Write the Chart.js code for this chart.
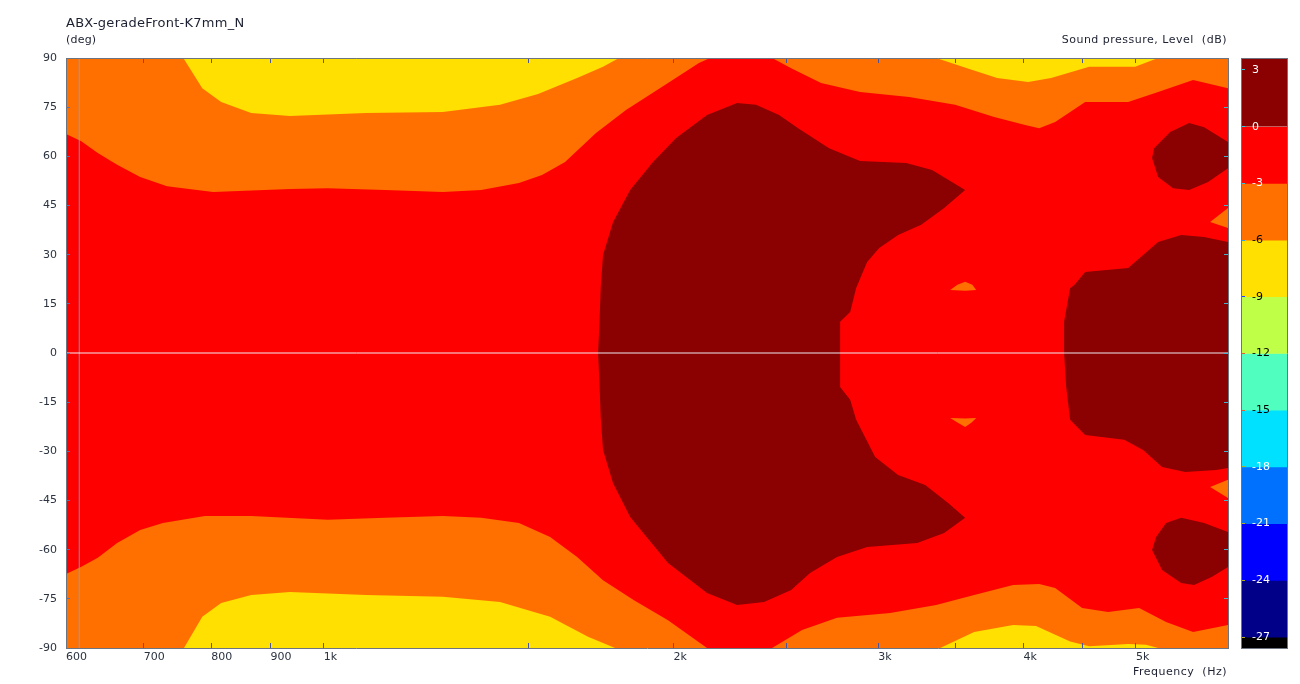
<!DOCTYPE html>
<html lang="de">
<head>
<meta charset="UTF-8">
<title>ABX-geradeFront-K7mm_N</title>
<script src="https://cdn.jsdelivr.net/npm/chart.js"></script>
<style>
  body { margin: 0; background: #fff; }
  #wrap { position: relative; width: 1300px; height: 684px; overflow: hidden;
          font-family: "DejaVu Sans", Verdana, sans-serif; color: #1c2030; }
  #plot { position: absolute; left: 0; top: 0; }
  #bar { position: absolute; left: 1230px; top: 41px; }
  .lbl { position: absolute; white-space: pre; font-size: 11px; line-height: 13px; letter-spacing: 0.5px; }
  #title { left: 66px; top: 15px; font-size: 13px; line-height: 16px; letter-spacing: 0.27px; }
  #ylab { left: 66px; top: 33px; letter-spacing: 0.2px; }
  #zlab { right: 73px; top: 33px; }
  #xlab { right: 73px; top: 665px; }
</style>
</head>
<body>
<div id="wrap">
  <canvas id="plot" width="1300" height="684"></canvas>
  <canvas id="bar" width="70" height="625"></canvas>
  <div class="lbl" id="title">ABX-geradeFront-K7mm_N</div>
  <div class="lbl" id="ylab">(deg)</div>
  <div class="lbl" id="zlab">Sound pressure, Level  (dB)</div>
  <div class="lbl" id="xlab">Frequency  (Hz)</div>
</div>

<script>
  // axes
  const xTicks = [600, 700, 800, 900, 1000, 1500, 2000, 2500, 3000, 3500, 4000, 4500, 5000];
  const xTickLabels = {600: '600', 700: '700', 800: '800', 900: '900', 1000: '1k', 2000: '2k', 3000: '3k', 4000: '4k', 5000: '5k'};
  const yTicks = [-90, -75, -60, -45, -30, -15, 0, 15, 30, 45, 60, 75, 90];

  // colour scale (dB)
  const cbLevels = [3, 0, -3, -6, -9, -12, -15, -18, -21, -24, -27];
  const cbLabelColors = ['#fff', '#fff', '#fff', '#000', '#000', '#000', '#000', '#fff', '#fff', '#fff', '#fff'];
  const cbTickColors = ['#30c8e0', '#30c8e0', '#30c8e0', '#30a0e0', '#2040ff', '#e06030', '#e06030', '#b0b020', '#b0b020', '#b0b020', '#b0b020'];
  const cbBands = [[0, 3.6], [-3, 0], [-6, -3], [-9, -6], [-12, -9], [-15, -12], [-18, -15], [-21, -18], [-24, -21], [-27, -24], [-27.6, -27]];
  const cbColors = ['#8b0000', '#ff0000', '#ff7000', '#ffe000', '#c0ff48', '#50ffc0', '#00e0ff', '#0070ff', '#0000ff', '#000088', '#000000'];

  // contour regions, [frequency Hz, angle deg]
  const orangeAll = [[600, -90], [6000, -90], [6000, 90], [600, 90]];

  const yellowTopLeft = [[757, 90], [786, 80.8], [816, 76.6], [866, 73.2], [935, 72.3], [1087, 73.2], [1266, 73.5],
    [1418, 75.7], [1529, 79.0], [1652, 83.9], [1739, 87.3], [1795, 90]];
  const yellowTopRight = [[3365, 90], [3578, 86.9], [3797, 83.9], [4038, 82.7], [4226, 83.9], [4557, 87.3], [4991, 87.3], [5224, 90]];
  const yellowBottomLeft = [[758, -90], [786, -80.5], [816, -76.3], [866, -73.8], [935, -72.9], [1087, -73.8], [1266, -74.4],
    [1418, -76.0], [1566, -80.5], [1688, -86.6], [1781, -90]];
  const yellowBottomRight = [[3392, -90], [3628, -85.1], [3919, -83.0], [4102, -83.3], [4388, -88.0], [4557, -89.5],
    [4923, -88.8], [5100, -89.0], [5224, -90]];

  const redRegion = [
    [600, 66.8], [618, 64.7], [639, 61.0], [664, 57.4], [695, 53.7], [733, 50.9], [803, 49.1], [935, 50.0], [1008, 50.3],
    [1129, 49.7], [1266, 49.1], [1366, 49.7], [1472, 51.9], [1541, 54.3], [1613, 58.3], [1715, 67.1], [1820, 74.1],
    [1978, 82.4], [2103, 88.5], [2150, 90], [2431, 90], [2525, 86.9], [2679, 82.4], [2894, 79.6], [3190, 78.1],
    [3494, 75.7], [3775, 72.0], [4006, 69.6], [4127, 68.6], [4260, 70.5], [4521, 76.6], [4923, 76.6], [5224, 79.6],
    [5599, 83.3], [6000, 80.8],
    [6000, -83.0], [5599, -85.1], [5307, -82.1], [5031, -77.8], [4731, -79.0], [4494, -77.8], [4260, -71.7],
    [4127, -70.5], [3919, -70.8], [3628, -73.8], [3365, -76.9], [3072, -79.3], [2765, -80.8], [2580, -84.5],
    [2431, -90], [2137, -90], [1978, -81.5], [1849, -75.4], [1739, -69.3], [1652, -62.2], [1566, -56.1],
    [1472, -51.9], [1366, -50.3], [1266, -49.7], [1129, -50.3], [1008, -50.9], [866, -49.7], [790, -49.7],
    [727, -51.9], [695, -54.0], [664, -58.0], [639, -62.5], [618, -65.3], [600, -67.4]];

  const darkCentre = [
    [1722, 0], [1727, 9.5], [1731, 19.8], [1739, 29.9], [1774, 40.0], [1835, 49.7], [1920, 58.3], [2010, 65.6],
    [2137, 72.6], [2268, 76.3], [2355, 75.7], [2465, 72.6], [2560, 68.6], [2722, 62.5], [2894, 58.6], [3171, 58.0],
    [3338, 55.8], [3564, 49.7], [3419, 44.2], [3267, 39.1], [3121, 36.0], [3006, 32.0], [2935, 27.8], [2872, 19.8],
    [2838, 12.5], [2782, 9.5], [2782, 0], [2782, -10.4], [2838, -14.3], [2872, -20.4], [2982, -31.7], [3121, -37.2],
    [3293, -40.3], [3446, -45.8], [3564, -50.3], [3419, -54.9], [3241, -58.0], [2935, -59.2], [2765, -62.2],
    [2621, -67.1], [2525, -72.3], [2393, -76.0], [2268, -76.9], [2137, -73.2], [1978, -64.1], [1835, -50.0],
    [1774, -39.7], [1739, -29.6], [1731, -19.5], [1727, -9.5]];
  const darkRight = [
    [6000, 33.9], [5723, 35.4], [5468, 36.0], [5224, 33.9], [4923, 25.9], [4521, 24.7], [4423, 20.7], [4388, 19.8],
    [4336, 9.5], [4336, 0], [4354, -10.4], [4388, -20.4], [4521, -25.0], [4884, -26.5], [5071, -29.6], [5265, -34.8],
    [5511, -36.3], [5860, -35.7], [6000, -35.1]];
  const darkIslandTop = [[6000, 64.4], [5723, 68.9], [5555, 70.2], [5350, 67.4], [5183, 62.5], [5162, 59.5], [5224, 53.7],
    [5381, 50.3], [5555, 49.7], [5768, 52.2], [6000, 56.4]];
  const darkIslandBottom = [[6000, -54.6], [5723, -51.9], [5468, -50.3], [5307, -51.9], [5203, -56.1], [5162, -60.1],
    [5265, -66.2], [5468, -70.2], [5610, -70.8], [5814, -68.3], [6000, -65.3]];

  const orangeEdgeTop = [[5791, 40.0], [6000, 44.2], [6000, 38.1]];
  const orangeEdgeBottom = [[5791, -40.9], [6000, -38.7], [6000, -44.2]];
  const orangeSpotTop = [[3460, 19.2], [3510, 20.8], [3564, 21.7], [3615, 20.8], [3643, 19.2], [3564, 19.0]];
  const orangeSpotBottom = [[3460, -19.8], [3564, -20.0], [3643, -19.8], [3610, -21.2], [3564, -22.6], [3510, -21.2]];

  const markerLine = [[616, -90], [616, 90]];
  const zeroLine = [[600, 0], [6000, 0]];

  const DARK = '#8b0000', RED = '#ff0000', ORANGE = '#ff7000', YELLOW = '#ffe000';
  const layers = [
    [orangeAll, ORANGE],
    [yellowTopLeft, YELLOW], [yellowTopRight, YELLOW], [yellowBottomLeft, YELLOW], [yellowBottomRight, YELLOW],
    [redRegion, RED],
    [darkCentre, DARK], [darkRight, DARK], [darkIslandTop, DARK], [darkIslandBottom, DARK],
    [orangeEdgeTop, ORANGE], [orangeEdgeBottom, ORANGE], [orangeSpotTop, ORANGE], [orangeSpotBottom, ORANGE]
  ];
  const toXY = pts => pts.map(p => ({x: p[0], y: p[1]}));

  const total = layers.length + 2;
  const datasets = layers.map((l, i) => ({
    data: toXY(l[0]),
    backgroundColor: l[1],
    borderColor: l[1],
    borderWidth: 0,
    fill: 'shape',
    pointRadius: 0,
    order: total - i
  }));
  datasets.push({data: toXY(markerLine), borderColor: 'rgba(110,170,225,0.85)', borderWidth: 1, fill: false, pointRadius: 0, order: 1});
  datasets.push({data: toXY(zeroLine), borderColor: 'rgba(240,248,255,0.95)', borderWidth: 1, fill: false, pointRadius: 0, order: 0});

  const FONT = {family: '"DejaVu Sans", Verdana, sans-serif', size: 11};
  const FRAME = '#6b7480';
  const setTicks = vals => s => { s.ticks = vals.map(v => ({value: v})); };

  new Chart(document.getElementById('plot'), {
    type: 'line',
    data: {datasets: datasets},
    options: {
      responsive: false,
      animation: false,
      devicePixelRatio: 1,
      layout: {padding: {left: 0, top: 58, right: 72, bottom: 0}},
      plugins: {legend: {display: false}, tooltip: {enabled: false}},
      elements: {line: {tension: 0}, point: {radius: 0}},
      scales: {
        x: {
          type: 'logarithmic', min: 600, max: 6000, position: 'bottom',
          afterFit: s => { s.height = 36; },
          afterBuildTicks: setTicks(xTicks),
          ticks: {autoSkip: false, maxRotation: 0, align: 'start', padding: 8, color: '#2b3340', font: FONT,
                  callback: v => xTickLabels[v] || ''},
          grid: {drawOnChartArea: false, tickLength: -5, tickColor: '#4a55a0', z: 1},
          border: {color: FRAME, z: 2}
        },
        x2: {
          type: 'logarithmic', min: 600, max: 6000, position: 'top',
          afterFit: s => { s.height = 0; },
          afterBuildTicks: setTicks(xTicks),
          ticks: {display: false},
          grid: {drawOnChartArea: false, tickLength: -5, tickColor: '#4a55a0', z: 1},
          border: {color: FRAME, z: 2}
        },
        y: {
          type: 'linear', min: -90, max: 90, position: 'left',
          afterFit: s => { s.width = 66; },
          afterBuildTicks: setTicks(yTicks),
          ticks: {padding: 13, color: '#2b3340', font: FONT},
          grid: {drawOnChartArea: false, tickLength: -4, tickColor: '#5a70b8', z: 1},
          border: {color: FRAME, z: 2}
        },
        y2: {
          type: 'linear', min: -90, max: 90, position: 'right',
          afterFit: s => { s.width = 0; },
          afterBuildTicks: setTicks(yTicks),
          ticks: {display: false},
          grid: {drawOnChartArea: false, tickLength: -4, tickColor: '#48b0c8', z: 1},
          border: {color: FRAME, z: 2}
        }
      }
    }
  });

  // colour bar
  new Chart(document.getElementById('bar'), {
    type: 'bar',
    data: {
      labels: ['dB'],
      datasets: cbBands.map((b, i) => ({
        data: [b], backgroundColor: cbColors[i], borderWidth: 0,
        grouped: false, barPercentage: 1, categoryPercentage: 1
      }))
    },
    options: {
      responsive: false,
      animation: false,
      devicePixelRatio: 1,
      layout: {padding: {left: 11, right: 13, top: 8, bottom: 12}},
      plugins: {legend: {display: false}, tooltip: {enabled: false}},
      scales: {
        x: {afterFit: s => { s.height = 0; }, ticks: {display: false}, grid: {display: false}, border: {color: FRAME, z: 2}},
        x2: {type: 'category', position: 'top', afterFit: s => { s.height = 0; }, ticks: {display: false},
             grid: {display: false}, border: {color: FRAME, z: 2}},
        y: {
          min: -27.6, max: 3.6,
          afterFit: s => { s.width = 0; },
          afterBuildTicks: setTicks(cbLevels),
          ticks: {mirror: true, padding: 11, font: FONT, z: 3,
                  color: c => cbLabelColors[cbLevels.indexOf(c.tick.value)] || '#000'},
          grid: {drawOnChartArea: false, tickLength: -4, z: 1,
                 tickColor: c => cbTickColors[cbLevels.indexOf(c.tick ? c.tick.value : NaN)] || FRAME},
          border: {color: FRAME, z: 2}
        },
        y2: {min: -27.6, max: 3.6, position: 'right', afterFit: s => { s.width = 0; },
             ticks: {display: false}, grid: {display: false}, border: {color: FRAME, z: 2}}
      }
    }
  });
</script>
</body>
</html>
